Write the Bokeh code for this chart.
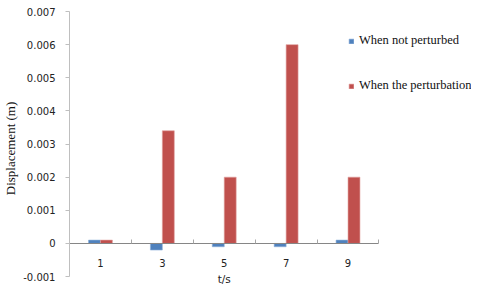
from bokeh.plotting import figure
from bokeh.models import (ColumnDataSource, Range1d, FixedTicker, LinearAxis, Label,
                          CustomJSTickFormatter, Legend, LegendItem)
from bokeh.transform import dodge
from bokeh.embed import file_html
from bokeh.resources import INLINE

# ---- data ----
times = ["1", "3", "5", "7", "9"]
not_perturbed = [0.0001, -0.0002, -0.0001, -0.0001, 0.0001]
perturbed = [0.0001, 0.0034, 0.002, 0.006, 0.002]
y_ticks = [-0.001, 0.0, 0.001, 0.002, 0.003, 0.004, 0.005, 0.006, 0.007]
series_names = ["When not perturbed", "When the perturbation"]
x_title = "t/s"
y_title = "Displacement (m)"

BLUE = "#4F81BD"
RED = "#C0504D"

n = len(times)
pos = [i + 0.5 for i in range(n)]          # category centres
src = ColumnDataSource(dict(x=pos, a=not_perturbed, b=perturbed))

# frame extends right and down so the legend and the x title are not clipped
x_end = 6.495
p = figure(width=471, height=285, output_backend="svg", toolbar_location=None,
           x_range=Range1d(0, x_end), y_range=Range1d(-0.00127, 0.007),
           min_border_left=59, min_border_right=0, min_border_top=11,
           min_border_bottom=0, x_axis_location=None)
p.outline_line_color = None
p.grid.visible = False
p.background_fill_color = "white"
p.border_fill_color = "white"

bw = 0.193
r_a = p.vbar(x=dodge("x", -bw / 2), top="a", bottom=0, width=bw,
             source=src, fill_color=BLUE, line_color="#8DB0DA", line_width=0.6)
r_b = p.vbar(x=dodge("x", bw / 2), top="b", bottom=0, width=bw,
             source=src, fill_color=RED, line_color="#E0A09E", line_width=0.6)

# y axis
ya = p.yaxis[0]
ya.bounds = (y_ticks[0], y_ticks[-1])
ya.ticker = FixedTicker(ticks=y_ticks)
ya.formatter = CustomJSTickFormatter(
    code="return Math.abs(tick) < 1e-12 ? '0' : tick.toFixed(3);")
ya.axis_line_color = "#BFBFBF"
ya.major_tick_line_color = "#BFBFBF"
ya.major_tick_out = 4
ya.major_tick_in = 0
ya.minor_tick_line_color = None
ya.major_label_standoff = 10
ya.major_label_text_font = "DejaVu Sans"
ya.major_label_text_font_size = "10px"
ya.major_label_text_color = "#222222"
ya.axis_label = y_title
ya.axis_label_text_font = "Liberation Serif"
ya.axis_label_text_font_style = "normal"
ya.axis_label_text_font_size = "13px"
ya.axis_label_text_color = "#111111"
ya.axis_label_standoff = 2

# x axis line through zero with category labels, boundary ticks pointing up
xa = LinearAxis(fixed_location=0, bounds=(0, n),
                ticker=FixedTicker(ticks=pos, minor_ticks=list(range(n + 1))),
                formatter=CustomJSTickFormatter(
                    args=dict(labels=times),
                    code="return labels[Math.round(tick - 0.5)];"))
xa.axis_line_color = "#868686"
xa.major_tick_line_color = None
xa.minor_tick_line_color = "#A6A6A6"
xa.minor_tick_in = 4
xa.minor_tick_out = 0
xa.major_label_standoff = 10
xa.major_label_text_font = "DejaVu Sans"
xa.major_label_text_font_size = "10px"
xa.major_label_text_color = "#222222"
p.add_layout(xa, "below")

# x axis title, centred under the categories
p.add_layout(Label(x=n / 2, y=1, x_units="data", y_units="screen", text=x_title,
                   text_align="center", text_baseline="bottom",
                   text_font="DejaVu Sans", text_font_size="10.5px",
                   text_color="#222222"))

legend = Legend(items=[LegendItem(label=series_names[0], renderers=[r_a]),
                       LegendItem(label=series_names[1], renderers=[r_b])],
                location=(279, 192), orientation="vertical",
                glyph_width=6, glyph_height=6, label_height=13, spacing=30,
                padding=0, margin=0, label_standoff=5,
                label_text_font="Liberation Serif", label_text_font_size="12.5px",
                label_text_color="#111111",
                background_fill_alpha=0, border_line_color=None)
p.add_layout(legend)

open("out.html", "w").write(file_html(p, INLINE))
